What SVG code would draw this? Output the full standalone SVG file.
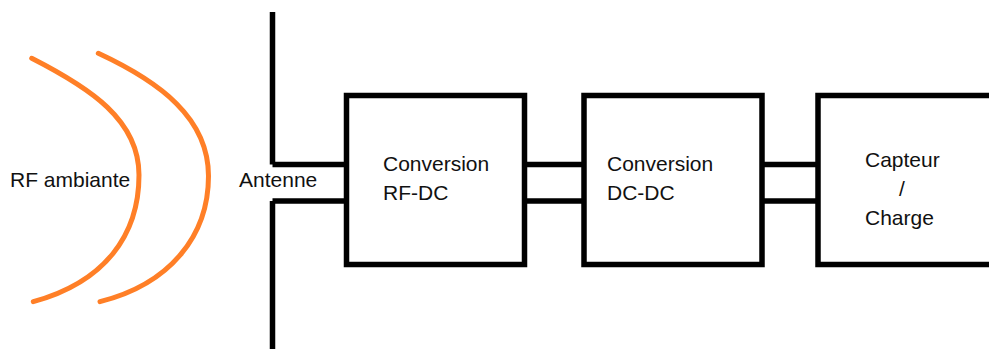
<svg xmlns="http://www.w3.org/2000/svg" width="989" height="349" viewBox="0 0 989 349">
  <style>
    .line { fill: none; stroke: #000; stroke-width: 5.5; }
    .box { fill: #fff; stroke: #000; stroke-width: 5.5; }
    .wave { fill: none; stroke: #FF7F27; stroke-width: 5; stroke-linecap: round; }
    .lbl { font-family: "Liberation Sans", Arial, sans-serif; font-size: 21px; fill: #111; }
  </style>
  <rect width="989" height="349" fill="#fff"/>

  <g id="rf-ambiante">
    <path class="wave" d="M31.7,58.3 C90,88 139,120 139,175 C139,235 105,282 33.3,301.7"/>
    <path class="wave" d="M98.3,53.3 C160,82 208.5,118 208.5,176 C208.5,236 170,284 100,301.7"/>
    <text class="lbl" x="10" y="187">RF ambiante</text>
  </g>

  <g id="antenne">
    <path class="line" d="M272.5,12 V164.5 M272.5,201 V349"/>
    <text class="lbl" x="239" y="187">Antenne</text>
  </g>

  <g id="connectors">
    <path class="line" d="M272.5,164.5 H346.5 M272.5,201 H346.5"/>
    <path class="line" d="M524.5,164.5 H584 M524.5,201 H584"/>
    <path class="line" d="M762,164.5 H818 M762,201 H818"/>
  </g>

  <g id="conversion-rf-dc">
    <rect class="box" x="346.5" y="95.5" width="178" height="169"/>
    <text class="lbl" x="383" y="171">Conversion</text>
    <text class="lbl" x="383" y="200">RF-DC</text>
  </g>

  <g id="conversion-dc-dc">
    <rect class="box" x="584" y="95.5" width="178" height="169"/>
    <text class="lbl" x="607" y="171">Conversion</text>
    <text class="lbl" x="607" y="200">DC-DC</text>
  </g>

  <g id="capteur-charge">
    <path class="line" d="M995,95.5 H818 V264.5 H995"/>
    <text class="lbl" x="865" y="166.5">Capteur</text>
    <text class="lbl" x="902" y="195.5" text-anchor="middle">/</text>
    <text class="lbl" x="865" y="224.5">Charge</text>
  </g>
</svg>
